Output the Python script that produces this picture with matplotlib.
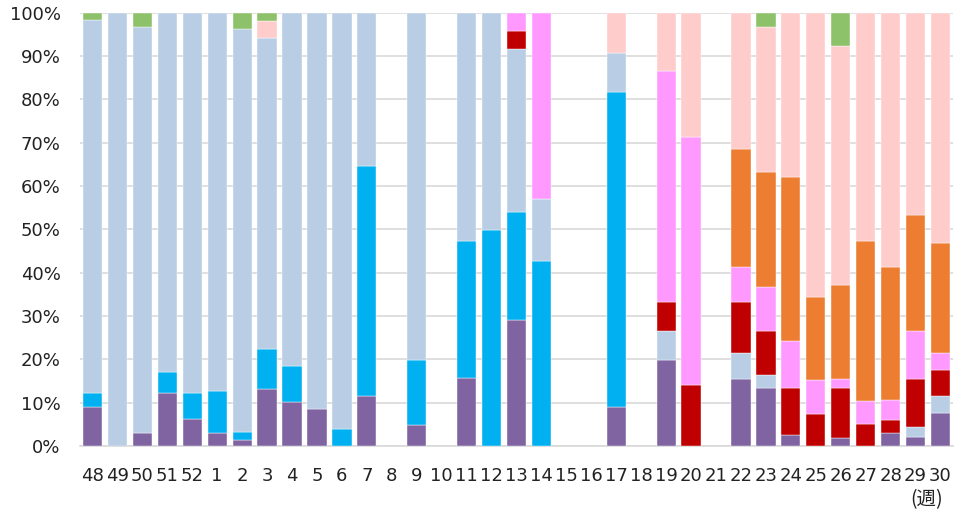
import matplotlib.pyplot as plt
import numpy as np

# Week labels (week 48 of previous year through week 30)
weeks = ["48", "49", "50", "51", "52"] + [str(w) for w in range(1, 31)]

# Share (%) of each group per week, bottom to top of the stack
purple = [8.9, 0, 2.9, 12.3, 6.2, 3.1, 1.5, 13.1, 10.2, 8.5, 0, 11.6, 0, 4.8, 0,
          15.6, 0, 29.1, 0, 0, 0, 8.9, 0, 19.8, 0, 0, 15.5, 13.3, 2.5, 0, 1.8, 0,
          2.9, 2.0, 7.7]
cyan = [3.3, 0, 0, 4.7, 6.0, 9.6, 1.8, 9.3, 8.3, 0, 3.9, 53.0, 0, 15.0, 0,
        31.6, 49.8, 24.9, 42.7, 0, 0, 72.8, 0, 0, 0, 0, 0, 0, 0, 0, 0, 0,
        0, 0, 0]
lightblue = [86.0, 100, 93.9, 83.0, 87.8, 87.3, 93.0, 71.8, 81.5, 91.5, 96.1,
             35.4, 0, 80.2, 0, 52.8, 50.2, 37.6, 14.3, 0, 0, 9.1, 0, 6.7, 0, 0,
             6.0, 3.2, 0, 0, 0, 0, 0, 2.3, 3.9]
red = [0, 0, 0, 0, 0, 0, 0, 0, 0, 0, 0, 0, 0, 0, 0, 0, 0, 4.2, 0, 0, 0, 0, 0,
       6.7, 14.1, 0, 11.7, 10.0, 10.9, 7.5, 11.7, 5.1, 3.1, 11.1, 5.9]
pink = [0, 0, 0, 0, 0, 0, 0, 0, 0, 0, 0, 0, 0, 0, 0, 0, 0, 4.2, 43.0, 0, 0, 0,
        0, 53.4, 57.3, 0, 8.0, 10.1, 10.9, 7.7, 2.0, 5.4, 4.6, 11.1, 4.0]
orange = [0, 0, 0, 0, 0, 0, 0, 0, 0, 0, 0, 0, 0, 0, 0, 0, 0, 0, 0, 0, 0, 0, 0,
          0, 0, 0, 27.3, 26.6, 37.8, 19.3, 21.7, 36.7, 30.8, 26.7, 25.3]
lightpink = [0, 0, 0, 0, 0, 0, 0, 3.9, 0, 0, 0, 0, 0, 0, 0, 0, 0, 0, 0, 0, 0,
             9.2, 0, 13.4, 28.6, 0, 31.5, 33.6, 37.9, 65.5, 55.0, 52.8, 58.6,
             46.8, 53.2]
green = [1.8, 0, 3.2, 0, 0, 0, 3.7, 1.9, 0, 0, 0, 0, 0, 0, 0, 0, 0, 0, 0, 0, 0,
         0, 0, 0, 0, 0, 0, 3.2, 0, 0, 7.8, 0, 0, 0, 0]

series = [purple, cyan, lightblue, red, pink, orange, lightpink, green]
colors = ["#8064A2", "#00B0F0", "#B9CDE5", "#C00000", "#FF99FF", "#ED7D31",
          "#FFCCCC", "#8DC16A"]

fig = plt.figure(figsize=(9.55, 5.11), dpi=100)
ax = fig.add_axes([80 / 955, 1 - 446 / 511, 873 / 955, 433.3 / 511])

x = np.arange(len(weeks))
bottom = np.zeros(len(weeks))
for vals, c in zip(series, colors):
    v = np.array(vals, dtype=float)
    nz = v > 0  # skip empty segments so no stray edges are drawn
    ax.bar(x[nz], v[nz], bottom=bottom[nz], width=0.77, color=c,
           edgecolor="white", linewidth=0.3, zorder=3)
    bottom += v

ax.set_xlim(-0.5, len(weeks) - 0.5)
ax.set_ylim(0, 100)
ax.set_yticks(np.arange(0, 101, 10))
ax.set_yticklabels([f"{t}%" for t in range(0, 101, 10)])
ax.set_xticks(x)
ax.set_xticklabels(weeks)
ax.tick_params(axis="both", length=0, labelsize=13, colors="#222222")
ax.tick_params(axis="x", pad=15)
ax.tick_params(axis="y", pad=14)
ax.grid(axis="y", color="#D9D9D9", linewidth=1.2, zorder=0)
for s in ["top", "right", "left"]:
    ax.spines[s].set_visible(False)
ax.spines["bottom"].set_color("#D9D9D9")
ax.spines["bottom"].set_linewidth(1.2)

fig.text(927 / 955, 1 - 500 / 511, "(週)", ha="center", va="center",
         fontsize=14, color="#222222", family=["Noto Sans CJK JP", "DejaVu Sans"])

fig.savefig("out.png", dpi=100)
